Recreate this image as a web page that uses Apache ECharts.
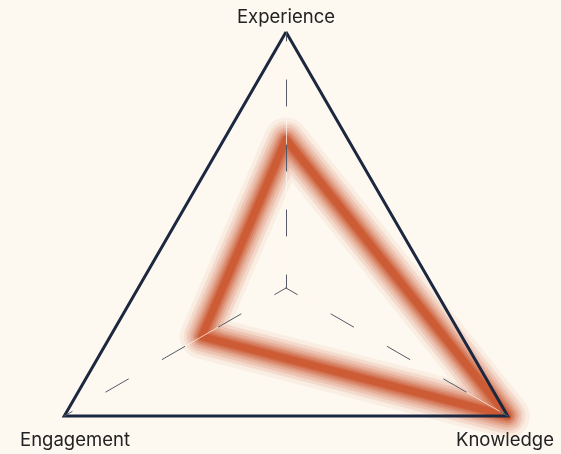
<!DOCTYPE html>
<html>
<head>
<meta charset="utf-8">
<script src="https://cdn.jsdelivr.net/npm/echarts@6/dist/echarts.min.js"></script>
<style>
  html, body { margin: 0; padding: 0; background: #fdf8f0; }
  #chart { width: 561px; height: 454px; }
</style>
</head>
<body>
<div id="chart"></div>
<script>
// ECharts lays indicators out counter-clockwise from the top
var indicators = ['Experience', 'Engagement', 'Knowledge'];
var maxValue = 100;
var scores = [58, 38, 100];

var chart = echarts.init(document.getElementById('chart'));

var center = [286, 288];
var radius = 256;

function radarBase(axisLineStyle, showSplit, z) {
  return {
    center: center,
    radius: radius,
    startAngle: 90,
    shape: 'polygon',
    splitNumber: 1,
    z: z,
    indicator: indicators.map(function (name) {
      return { name: name, max: maxValue };
    }),
    axisName: { show: false },
    axisLine: { lineStyle: axisLineStyle },
    splitLine: {
      show: showSplit,
      lineStyle: { color: '#1c2740', width: 3 }
    },
    splitArea: { show: false },
    axisTick: { show: false },
    axisLabel: { show: false }
  };
}

// label placement under / above the vertices
var labelPos = {
  Experience: [286, 17],
  Engagement: [75, 440],
  Knowledge: [505, 440]
};

// soft glow: stacked strokes of the same polygon, wide & faint to narrow & strong
var glowLayers = [
  { w: 44, a: 0.06 }, { w: 36, a: 0.08 }, { w: 29, a: 0.11 },
  { w: 23, a: 0.14 }, { w: 18, a: 0.19 }, { w: 14, a: 0.26 },
  { w: 10, a: 0.4 }, { w: 7, a: 0.6 }
];

var series = glowLayers.map(function (g, i) {
  return {
    type: 'radar',
    radarIndex: 0,
    z: 0,
    symbol: 'none',
    silent: true,
    lineStyle: {
      color: 'rgba(202, 82, 42, ' + g.a + ')',
      width: g.w,
      shadowColor: 'rgba(202, 82, 42, ' + g.a + ')',
      shadowBlur: 14,
      cap: 'round',
      join: 'round'
    },
    data: [{ value: scores, name: 'glow' + i }]
  };
});

chart.setOption({
  backgroundColor: '#fdf8f0',
  radar: [
    radarBase({ color: 'rgba(255,250,240,0.7)', width: 1 }, false, 1),
    radarBase({ color: '#555a66', width: 1, type: [26, 39], dashOffset: 13 }, true, 3)
  ],
  graphic: indicators.map(function (name) {
    return {
      type: 'text',
      x: labelPos[name][0],
      y: labelPos[name][1],
      style: {
        text: name,
        fill: '#222',
        font: '18.5px Inter',
        align: 'center',
        verticalAlign: 'middle'
      }
    };
  }),
  series: series
});
</script>
</body>
</html>
